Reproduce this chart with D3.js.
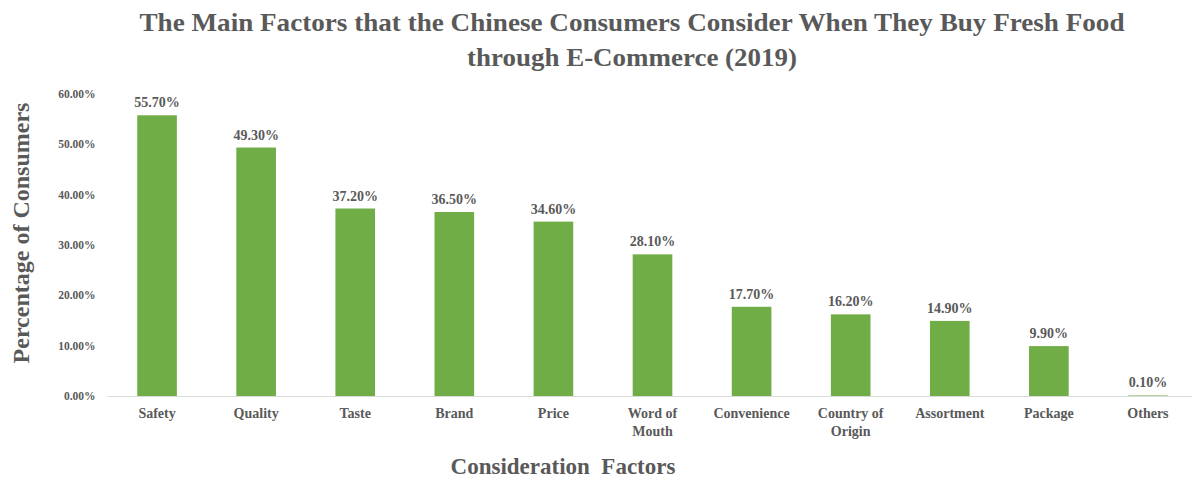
<!DOCTYPE html>
<html>
<head>
<meta charset="utf-8">
<script src="https://cdn.jsdelivr.net/npm/d3@7"></script>
<style>
  body { margin: 0; background: #fff; }
  text { font-family: "Liberation Serif", "Times New Roman", serif; font-weight: bold; fill: #595959; }
</style>
</head>
<body>
<div id="chart"></div>
<script>
var categories = ["Safety", "Quality", "Taste", "Brand", "Price", "Word of|Mouth",
    "Convenience", "Country of|Origin", "Assortment", "Package", "Others"];
var values = [55.7, 49.3, 37.2, 36.5, 34.6, 28.1, 17.7, 16.2, 14.9, 9.9, 0.1];
var yTicks = [0, 10, 20, 30, 40, 50, 60];

var width = 1192, height = 478;
var margin = {top: 93.6, right: 0, bottom: 82, left: 107.5};

var svg = d3.select("#chart").append("svg")
    .attr("width", width)
    .attr("height", height);

var x = d3.scaleBand()
    .domain(categories)
    .range([margin.left, margin.left + 1090])
    .paddingInner(0.6)
    .paddingOuter(0.3);

var y = d3.scaleLinear()
    .domain([0, 60])
    .range([height - margin.bottom, margin.top]);

// title
var title = svg.append("g").attr("class", "title");
title.append("text")
    .attr("x", 632).attr("y", 31)
    .attr("text-anchor", "middle")
    .attr("font-size", 25)
    .attr("textLength", 985).attr("lengthAdjust", "spacingAndGlyphs")
    .text("The Main Factors that the Chinese Consumers Consider When They Buy Fresh Food");
title.append("text")
    .attr("x", 632).attr("y", 66)
    .attr("text-anchor", "middle")
    .attr("font-size", 25)
    .attr("textLength", 330).attr("lengthAdjust", "spacingAndGlyphs")
    .text("through E-Commerce (2019)");

// y axis labels
var yAxis = svg.append("g")
    .attr("transform", `translate(${margin.left},0)`)
    .call(d3.axisLeft(y).tickValues(yTicks).tickFormat(d => d.toFixed(2) + "%").tickSize(0).tickPadding(12));
yAxis.select(".domain").remove();
yAxis.selectAll("text")
    .attr("font-size", 11.5)
    .style("font-family", "'Liberation Serif', serif")
    .style("font-weight", "bold")
    .attr("fill", "#595959");

// bars
svg.selectAll("rect.bar")
    .data(values)
    .enter().append("rect")
    .attr("class", "bar")
    .attr("x", (d, i) => x(categories[i]))
    .attr("width", x.bandwidth())
    .attr("y", d => y(d))
    .attr("height", d => y(0) - y(d))
    .attr("fill", "#70AD47");

// baseline
svg.append("line")
    .attr("x1", margin.left).attr("x2", width)
    .attr("y1", y(0) + 0.5).attr("y2", y(0) + 0.5)
    .attr("stroke", "#D9D9D9")
    .attr("stroke-width", 1);

// value labels
svg.selectAll("text.value")
    .data(values)
    .enter().append("text")
    .attr("class", "value")
    .attr("x", (d, i) => x(categories[i]) + x.bandwidth() / 2)
    .attr("y", d => y(d) - 8)
    .attr("text-anchor", "middle")
    .attr("font-size", 14)
    .text(d => d.toFixed(2) + "%");

// category labels
var cat = svg.selectAll("text.cat")
    .data(categories)
    .enter().append("text")
    .attr("class", "cat")
    .attr("x", d => x(d) + x.bandwidth() / 2)
    .attr("y", y(0) + 22)
    .attr("text-anchor", "middle")
    .attr("font-size", 14);
cat.selectAll("tspan")
    .data(d => d.split("|"))
    .enter().append("tspan")
    .attr("x", function() { return this.parentNode.getAttribute("x"); })
    .attr("dy", (d, i) => i === 0 ? 0 : 18)
    .text(d => d);

// axis titles
svg.append("text")
    .attr("x", 563).attr("y", 474)
    .attr("text-anchor", "middle")
    .attr("font-size", 23)
    .style("white-space", "pre")
    .text("Consideration  Factors");

svg.append("text")
    .attr("transform", "translate(29,233) rotate(-90)")
    .attr("text-anchor", "middle")
    .attr("font-size", 24)
    .text("Percentage of Consumers");
</script>
</body>
</html>
